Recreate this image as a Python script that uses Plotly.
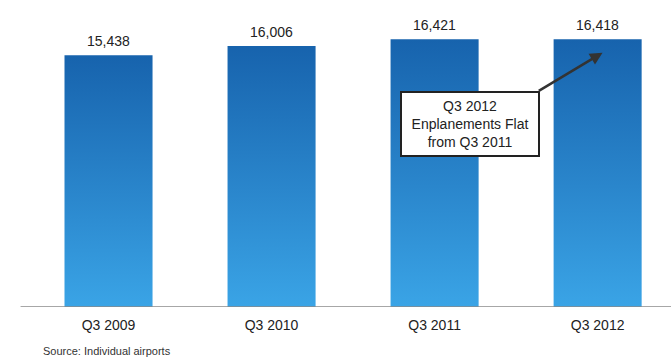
import plotly.graph_objects as go

categories = ["Q3 2009", "Q3 2010", "Q3 2011", "Q3 2012"]
values = [15438, 16006, 16421, 16418]
value_labels = ["15,438", "16,006", "16,421", "16,418"]
source_text = "Source: Individual airports"
callout_text = "Q3 2012<br>Enplanements Flat<br>from Q3 2011"

TOP_COLOR = "#1763ad"
BOTTOM_COLOR = "#3aa4e6"
BAR_W = 0.54
FONT = "Liberation Sans, Arial, sans-serif"

fig = go.Figure()

for i, (cat, v) in enumerate(zip(categories, values)):
    x0, x1 = i - BAR_W / 2, i + BAR_W / 2
    fig.add_trace(go.Scatter(
        x=[x0, x1, x1, x0, x0], y=[0, 0, v, v, 0],
        mode="lines", line=dict(width=0), fill="toself",
        fillgradient=dict(type="vertical", start=0, stop=v,
                          colorscale=[[0, BOTTOM_COLOR], [0.45, "#2a86cc"], [1, TOP_COLOR]]),
        hoverinfo="skip", showlegend=False, name=cat,
    ))

for i, (v, lab) in enumerate(zip(values, value_labels)):
    fig.add_annotation(
        x=i, y=v, xref="x", yref="y", text=lab, showarrow=False,
        yanchor="bottom", yshift=4, font=dict(family=FONT, size=14, color="#222"),
    )

fig.update_layout(
    width=671, height=360,
    margin=dict(l=27, r=0, t=0, b=53),
    plot_bgcolor="white", paper_bgcolor="white",
    font=dict(family=FONT, size=14, color="#222"),
    xaxis=dict(
        range=[-0.5, 3.45], tickmode="array",
        tickvals=list(range(len(categories))), ticktext=categories,
        showgrid=False, zeroline=False, showline=False, ticks="",
        tickfont=dict(size=14, color="#222"), ticklabelstandoff=8,
    ),
    yaxis=dict(range=[0, 18830], visible=False),
    showlegend=False,
)

# baseline axis line
fig.add_shape(type="line", xref="paper", yref="y", x0=-0.01, x1=1, y0=0, y1=0,
              line=dict(color="#8a8a8a", width=1.5))

# callout box
fig.add_annotation(
    x=2.218, y=11196, xref="x", yref="y", text=callout_text, showarrow=False,
    font=dict(family=FONT, size=14, color="#222"), align="center",
    bgcolor="white", bordercolor="#222", borderwidth=2, borderpad=2,
    width=132, height=58,
)
# arrow from box corner to bar
fig.add_annotation(
    x=3.03, y=15600, ax=2.63, ay=13200, xref="x", yref="y",
    axref="x", ayref="y", text="", showarrow=True,
    arrowhead=2, arrowsize=1, arrowwidth=2.5, arrowcolor="#333",
)

fig.add_annotation(
    x=15 / 671, y=-0.143, xref="paper", yref="paper", text=source_text, showarrow=False,
    xanchor="left", yanchor="middle", font=dict(family=FONT, size=11, color="#333"),
)

fig.write_html("out.html")
